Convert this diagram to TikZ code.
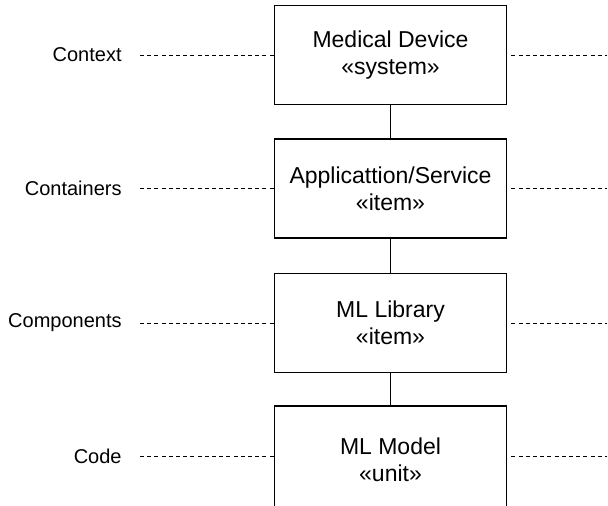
\documentclass[tikz,border=0pt]{standalone}
\usepackage{fontspec}
\setmainfont{Liberation Sans}
\usepackage{tikz}
\usetikzlibrary{positioning, calc}

\begin{document}
\begin{tikzpicture}[
  x=0.5pt, y=-0.5pt,
  lvlbox/.style={draw, line width=0.85pt, minimum width=116pt, minimum height=49.5pt,
    inner sep=0pt, align=center, font=\fontsize{11.5}{13.5}\selectfont},
  lvllabel/.style={anchor=east, inner sep=0pt, font=\fontsize{10}{12}\selectfont},
  guide/.style={dash pattern=on 2pt off 1.6pt, line width=0.5pt},
  link/.style={line width=0.85pt}
]
  \useasboundingbox (0,0) rectangle (608,505);

  % the four levels
  \node[lvlbox] (sys) at (390.5, 55)    {Medical Device\\«system»};
  \node[lvlbox] (app) at (390.5, 188.5) {Applicattion/Service\\«item»};
  \node[lvlbox] (lib) at (390.5, 323)   {ML Library\\«item»};
  \node[lvlbox, minimum height=54pt] (mdl) at (390.5, 460) {ML Model\\«unit»};

  \draw[link] (sys) -- (app);
  \draw[link] (app) -- (lib);
  \draw[link] (lib) -- (mdl);

  % level names
  \node[lvllabel] (ctx) at (122, 55)    {Context};
  \node[lvllabel] (cnt) at (122, 188.5) {Containers};
  \node[lvllabel] (cmp) at (122, 323)   {Components};
  \node[lvllabel] (cde) at (122, 456)   {Code};

  \coordinate (ctxR) at (607, 55);
  \coordinate (cntR) at (607, 188.5);
  \coordinate (cmpR) at (607, 323);
  \coordinate (cdeR) at (607, 456);

  \draw[guide] ([xshift=9pt]ctx.east) -- (sys.west |- ctx.east);
  \draw[guide] ([xshift=9pt]cnt.east) -- (app.west);
  \draw[guide] ([xshift=9pt]cmp.east) -- (lib.west);
  \draw[guide] ([xshift=9pt]cde.east) -- (mdl.west |- cde.east);

  \draw[guide] ([xshift=2pt]sys.east) -- (ctxR);
  \draw[guide] ([xshift=2pt]app.east) -- (cntR);
  \draw[guide] ([xshift=2pt]lib.east) -- (cmpR);
  \draw[guide] ([xshift=2pt]mdl.east |- cdeR) -- (cdeR);
\end{tikzpicture}
\end{document}
